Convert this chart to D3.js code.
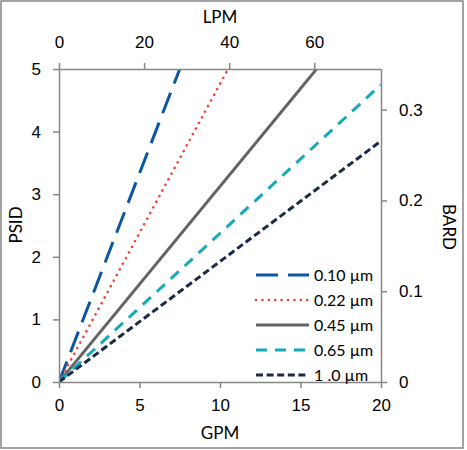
<!DOCTYPE html>
<html>
<head>
<meta charset="utf-8">
<script src="https://cdn.jsdelivr.net/npm/d3@7"></script>
<style>
  body { margin: 0; background: #fff; }
  svg { font-family: Lato, "Open Sans", sans-serif; }
  .axis path, .axis line { stroke: #868686; stroke-width: 1.5; }
  .axis text { font-size: 17px; fill: #000; }
  .title { font-size: 17px; fill: #000; }
  .legend text { font-size: 16px; fill: #000; }
</style>
</head>
<body>
<div class="chart"></div>
<script>
// series: flow (GPM) vs pressure drop (PSID)
const seriesNames = ["0.10 µm", "0.22 µm", "0.45 µm", "0.65 µm", "1 .0 µm"]
const gpmValues = [
    [0, 7.5],
    [0, 10.5],
    [0, 16],
    [0, 20],
    [0, 20]
]
const psidValues = [
    [0, 5],
    [0, 5],
    [0, 5],
    [0, 4.75],
    [0, 3.85]
]
const colors = ["#0b57a4", "#f0443a", "#646464", "#17a9b9", "#1b2a45"]
const dashes = ["22 10", "0.1 6.3", null, "11 8", "7 3.6"]

const gpmTicks = [0, 5, 10, 15, 20]
const psidTicks = [0, 1, 2, 3, 4, 5]
const lpmTicks = [0, 20, 40, 60]
const bardTicks = [0, 0.1, 0.2, 0.3]

const LPM_PER_GPM = 3.785
const PSI_PER_BAR = 14.5038

const width = 467, height = 450
const margin = {left: 59, right: 86, top: 69, bottom: 68}

const svg = d3.select(".chart").append("svg")
    .attr("width", width)
    .attr("height", height)

// outer frame
svg.append("rect")
    .attr("x", 1).attr("y", 1)
    .attr("width", 462).attr("height", 447)
    .attr("fill", "none")
    .attr("stroke", "#868686")
    .attr("stroke-width", 1.5)

const x = d3.scaleLinear().domain([0, 20]).range([margin.left, width - margin.right])
const y = d3.scaleLinear().domain([0, 5]).range([height - margin.bottom, margin.top])
const xTop = d3.scaleLinear().domain([0, 20 * LPM_PER_GPM]).range(x.range())
const yRight = d3.scaleLinear().domain([0, 5 / PSI_PER_BAR]).range(y.range())

svg.append("clipPath").attr("id", "plot")
    .append("rect")
    .attr("x", x(0)).attr("y", y(5))
    .attr("width", x(20) - x(0)).attr("height", y(0) - y(5))

// lines
const line = d3.line().x(d => x(d[0])).y(d => y(d[1]))
seriesNames.forEach(function(name, i){
    const pts = gpmValues[i].map((g, j) => [g, psidValues[i][j]])
    svg.append("path")
        .attr("clip-path", "url(#plot)")
        .attr("d", line(pts))
        .attr("fill", "none")
        .attr("stroke", colors[i])
        .attr("stroke-width", i == 1 ? 2.6 : 3)
        .attr("stroke-linecap", i == 1 ? "round" : "butt")
        .attr("stroke-dasharray", dashes[i])
})

// axes
svg.append("g").attr("class", "axis")
    .attr("transform", `translate(0,${y(0)})`)
    .call(d3.axisBottom(x).tickValues(gpmTicks).tickSize(6).tickPadding(11).tickSizeOuter(0))

svg.append("g").attr("class", "axis")
    .attr("transform", `translate(${x(0)},0)`)
    .call(d3.axisLeft(y).tickValues(psidTicks).tickFormat(d3.format("d")).tickSize(6).tickPadding(12).tickSizeOuter(0))

svg.append("g").attr("class", "axis")
    .attr("transform", `translate(0,${y(5)})`)
    .call(d3.axisTop(xTop).tickValues(lpmTicks).tickSize(6).tickPadding(15).tickSizeOuter(0))

svg.append("g").attr("class", "axis")
    .attr("transform", `translate(${x(20)},0)`)
    .call(d3.axisRight(yRight).tickValues(bardTicks).tickFormat(d3.format("")).tickSize(6).tickPadding(12).tickSizeOuter(0))

// axis titles
svg.append("text").attr("class", "title")
    .attr("x", 220).attr("y", 23)
    .attr("text-anchor", "middle")
    .text("LPM")

svg.append("text").attr("class", "title")
    .attr("x", 220).attr("y", 439)
    .attr("text-anchor", "middle")
    .text("GPM")

svg.append("text").attr("class", "title")
    .attr("transform", "translate(22,225) rotate(-90)")
    .attr("text-anchor", "middle")
    .text("PSID")

svg.append("text").attr("class", "title")
    .attr("transform", "translate(443,227) rotate(90)")
    .attr("text-anchor", "middle")
    .text("BARD")

// legend
const legend = svg.append("g").attr("class", "legend")
seriesNames.forEach(function(name, i){
    const ly = 275 + i * 25
    legend.append("line")
        .attr("x1", 256).attr("x2", 309)
        .attr("y1", ly).attr("y2", ly)
        .attr("stroke", colors[i])
        .attr("stroke-width", i == 1 ? 2.6 : 3)
        .attr("stroke-linecap", i == 1 ? "round" : "butt")
        .attr("stroke-dasharray", dashes[i])
    legend.append("text")
        .attr("x", 314).attr("y", ly + 6)
        .text(name)
})
</script>
</body>
</html>
